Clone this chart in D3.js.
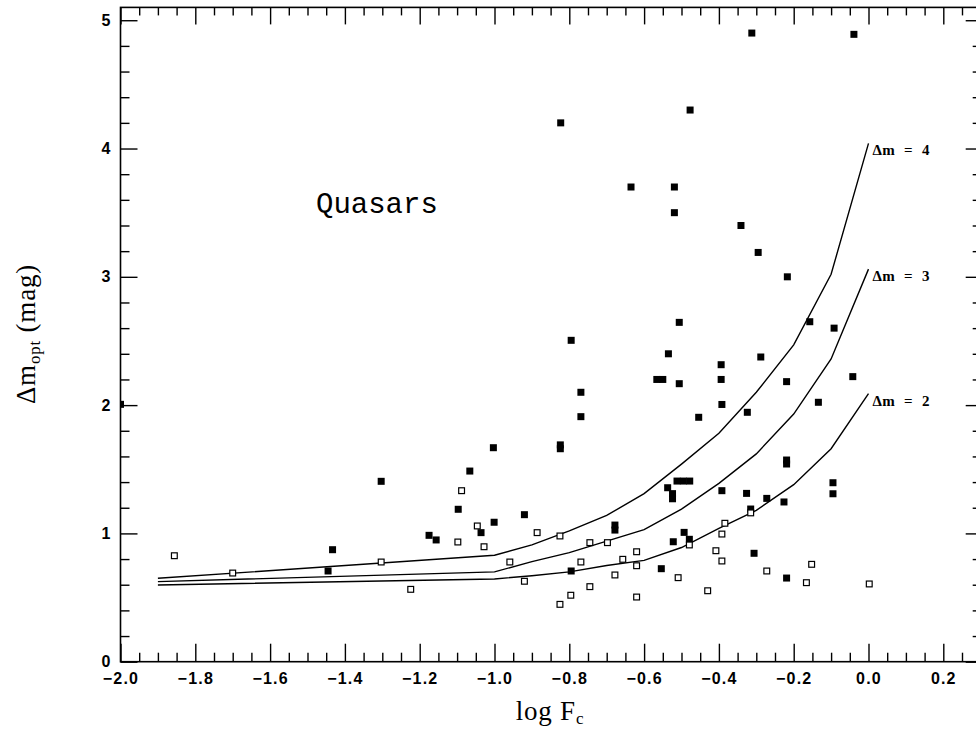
<!DOCTYPE html>
<html>
<head>
<meta charset="utf-8">
<script src="https://cdn.jsdelivr.net/npm/d3@7"></script>
<style>
  html, body { margin: 0; padding: 0; background: #fff; }
  svg { display: block; }
</style>
</head>
<body>
<svg id="chart" width="976" height="730"></svg>
<script>
// Axis ticks
const xMajorTicks = [-2.0, -1.8, -1.6, -1.4, -1.2, -1.0, -0.8, -0.6, -0.4, -0.2, 0.0, 0.2];
const yMajorTicks = [0, 1, 2, 3, 4, 5];

// Model curves: optical variability expected for a given intrinsic Δm
const curveLogF = [-1.9, -1.0, -0.9, -0.8, -0.7, -0.6, -0.5, -0.4, -0.3, -0.2, -0.1, 0.0];
const curveDm4  = [0.65, 0.83, 0.91, 1.02, 1.14, 1.31, 1.54, 1.78, 2.10, 2.47, 3.02, 4.04];
const curveDm3  = [0.624, 0.70, 0.78, 0.85, 0.94, 1.03, 1.19, 1.39, 1.62, 1.93, 2.36, 3.06];
const curveDm2  = [0.598, 0.645, 0.67, 0.70, 0.75, 0.79, 0.89, 1.04, 1.18, 1.38, 1.66, 2.09];
const curveLabels = ["Δm = 4", "Δm = 3", "Δm = 2"];

// Quasars, filled squares
const filledX = [-2.0, -0.312, -0.039, -0.823, -0.477, -0.635, -0.519, -0.519, -0.341, -0.295,
  -0.217, -0.157, -0.092, -0.506, -0.795, -0.535, -0.394, -0.288, -0.566, -0.550,
  -0.506, -0.394, -0.219, -0.042, -0.769, -0.769, -0.392, -0.324, -0.134, -0.454,
  -0.824, -0.824, -1.003, -1.066, -1.303, -1.097, -1.001, -1.036, -0.920, -0.678,
  -0.678, -0.537, -0.524, -0.524, -0.512, -0.495, -0.478, -0.392, -0.326, -0.272,
  -0.226, -0.315, -0.219, -0.219, -0.095, -0.095, -0.306, -0.219, -0.493, -0.479,
  -0.522, -0.554, -0.795, -1.433, -1.445, -1.175, -1.156];
const filledY = [2.006, 4.90, 4.89, 4.20, 4.30, 3.70, 3.70, 3.50, 3.40, 3.19,
  3.00, 2.65, 2.60, 2.645, 2.505, 2.40, 2.315, 2.375, 2.20, 2.20,
  2.167, 2.20, 2.183, 2.222, 2.10, 1.91, 2.005, 1.944, 2.022, 1.905,
  1.69, 1.66, 1.668, 1.486, 1.406, 1.188, 1.087, 1.006, 1.146, 1.065,
  1.026, 1.356, 1.31, 1.27, 1.408, 1.408, 1.408, 1.333, 1.312, 1.273,
  1.245, 1.19, 1.572, 1.541, 1.395, 1.309, 0.845, 0.652, 1.008, 0.954,
  0.935, 0.725, 0.707, 0.873, 0.707, 0.985, 0.949];

// Quasars, open squares
const openX = [-1.856, -1.70, -1.303, -1.224, -1.088, -1.046, -1.098, -1.028, -0.886, -0.825,
  -0.745, -0.698, -0.959, -0.769, -0.657, -0.620, -0.620, -0.920, -0.678, -0.479,
  -0.509, -0.745, -0.796, -0.825, -0.620, -0.430, -0.408, -0.384, -0.392, -0.392,
  -0.272, -0.152, -0.166, 0.002, -0.315];
const openY = [0.826, 0.691, 0.777, 0.564, 1.333, 1.058, 0.933, 0.896, 1.006, 0.98,
  0.928, 0.928, 0.777, 0.777, 0.798, 0.857, 0.748, 0.627, 0.676, 0.91,
  0.655, 0.585, 0.518, 0.447, 0.504, 0.553, 0.865, 1.079, 0.995, 0.785,
  0.707, 0.759, 0.616, 0.606, 1.16];

const svg = d3.select("#chart");
const frameL = 120.5, frameR = 980.7, frameT = 7.4, frameB = 661.7;

const x = d3.scaleLinear().domain([-2.0, 0.3]).range([frameL, frameR]);
const y = d3.scaleLinear().domain([0, 5.1]).range([frameB, frameT]);

const xMinor = d3.range(-2.0, 0.3001, 0.05).filter(v => Math.abs(Math.round(v * 5) - v * 5) > 1e-6);
const yMinor = d3.range(0, 5.1001, 0.2).filter(v => Math.abs(Math.round(v) - v) > 1e-6);

const fmtX = d3.format(".1f");
const tickFont = "Liberation Sans, Arial, sans-serif";

function styleAxis(g) {
  g.select(".domain").remove();
  g.selectAll(".tick line").attr("stroke", "#000").attr("stroke-width", 1.4);
}

// Bottom axis with labels
svg.append("g").attr("transform", `translate(0,${frameB})`)
  .call(d3.axisBottom(x).tickValues(xMajorTicks).tickSize(-18).tickPadding(11).tickFormat(fmtX))
  .call(styleAxis)
  .call(g => g.selectAll("text").attr("font-family", tickFont)
    .attr("font-size", 16).attr("font-weight", "bold").attr("fill", "#000").attr("letter-spacing", 1.2));
svg.append("g").attr("transform", `translate(0,${frameB})`)
  .call(d3.axisBottom(x).tickValues(xMinor).tickSize(-9).tickFormat(""))
  .call(styleAxis);

// Top axis
svg.append("g").attr("transform", `translate(0,${frameT})`)
  .call(d3.axisTop(x).tickValues(xMajorTicks).tickSize(-17).tickFormat(""))
  .call(styleAxis);
svg.append("g").attr("transform", `translate(0,${frameT})`)
  .call(d3.axisTop(x).tickValues(xMinor).tickSize(-8).tickFormat(""))
  .call(styleAxis);

// Left axis with labels
svg.append("g").attr("transform", `translate(${frameL},0)`)
  .call(d3.axisLeft(y).tickValues(yMajorTicks).tickSize(-17).tickPadding(10).tickFormat(d3.format("d")))
  .call(styleAxis)
  .call(g => g.selectAll("text").attr("font-family", tickFont)
    .attr("font-size", 16).attr("font-weight", "bold").attr("fill", "#000"));
svg.append("g").attr("transform", `translate(${frameL},0)`)
  .call(d3.axisLeft(y).tickValues(yMinor).tickSize(-9).tickFormat(""))
  .call(styleAxis);

// Right axis
svg.append("g").attr("transform", `translate(${frameR},0)`)
  .call(d3.axisRight(y).tickValues(yMajorTicks).tickSize(-15).tickFormat(""))
  .call(styleAxis);
svg.append("g").attr("transform", `translate(${frameR},0)`)
  .call(d3.axisRight(y).tickValues(yMinor).tickSize(-8).tickFormat(""))
  .call(styleAxis);

// Frame
svg.append("rect")
  .attr("x", frameL).attr("y", frameT)
  .attr("width", frameR - frameL).attr("height", frameB - frameT)
  .attr("fill", "none").attr("stroke", "#000").attr("stroke-width", 1.6);

// Clip to the plotting frame
svg.append("clipPath").attr("id", "plot-clip")
  .append("rect").attr("x", frameL).attr("y", frameT)
  .attr("width", frameR - frameL).attr("height", frameB - frameT);
const plot = svg.append("g").attr("clip-path", "url(#plot-clip)");

// Model curves
const line = d3.line().x(d => x(d[0])).y(d => y(d[1]));
[curveDm4, curveDm3, curveDm2].forEach((vals, i) => {
  const pts = curveLogF.map((v, j) => [v, vals[j]]);
  plot.append("path").datum(pts)
    .attr("d", line)
    .attr("fill", "none").attr("stroke", "#000").attr("stroke-width", 1.4);
  const last = pts[pts.length - 1];
  svg.append("text")
    .attr("x", x(last[0]) + 4).attr("y", y(last[1]) + 12)
    .attr("font-family", "Liberation Serif, Times New Roman, serif")
    .attr("font-size", 15).attr("font-weight", "bold")
    .attr("word-spacing", 5).attr("letter-spacing", 0.3)
    .attr("fill", "#000")
    .text(curveLabels[i]);
});

// Data points
const sq = 7;
plot.selectAll("rect.filled")
  .data(filledX.map((v, i) => [v, filledY[i]]))
  .join("rect").attr("class", "filled")
  .attr("x", d => x(d[0]) - sq / 2).attr("y", d => y(d[1]) - sq / 2)
  .attr("width", sq).attr("height", sq).attr("fill", "#000");

plot.selectAll("rect.open")
  .data(openX.map((v, i) => [v, openY[i]]))
  .join("rect").attr("class", "open")
  .attr("x", d => x(d[0]) - (sq - 1.2) / 2).attr("y", d => y(d[1]) - (sq - 1.2) / 2)
  .attr("width", sq - 1.2).attr("height", sq - 1.2)
  .attr("fill", "#fff").attr("stroke", "#000").attr("stroke-width", 1.2);

// Panel title
svg.append("text")
  .attr("x", 316).attr("y", 213)
  .attr("font-family", "Liberation Mono, Courier New, monospace")
  .attr("font-size", 29).attr("fill", "#000")
  .text("Quasars");

// Axis titles
const xt = svg.append("text")
  .attr("x", 550).attr("y", 720)
  .attr("text-anchor", "middle")
  .attr("font-family", "Liberation Serif, Times New Roman, serif")
  .attr("font-size", 27).attr("letter-spacing", 0.8).attr("fill", "#000");
xt.append("tspan").text("log  F");
xt.append("tspan").attr("dy", 4).attr("font-size", 17).text("c");

const yt = svg.append("text")
  .attr("transform", "translate(35,334) rotate(-90)")
  .attr("text-anchor", "middle")
  .attr("font-family", "Liberation Serif, Times New Roman, serif")
  .attr("font-size", 27).attr("letter-spacing", 0.8).attr("fill", "#000");
yt.append("tspan").text("Δm");
yt.append("tspan").attr("dy", 5).attr("font-size", 17).text("opt");
yt.append("tspan").attr("dy", -5).text(" (mag)");
</script>
</body>
</html>
